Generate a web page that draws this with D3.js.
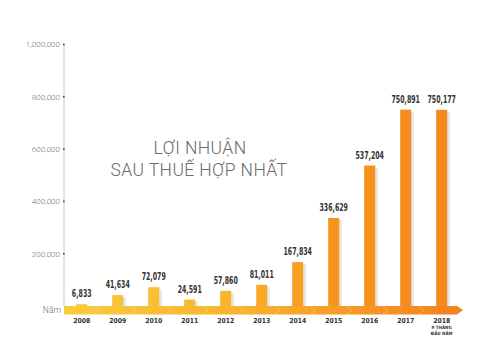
<!DOCTYPE html>
<meta charset="utf-8">
<style>
body { margin: 0; background: #fff; }
.tick-label { font-family: Roboto, sans-serif; font-weight: 300; font-size: 8px; fill: #6f6f6f; }
.val { font-family: "DejaVu Sans Condensed", "Liberation Sans Narrow", sans-serif; font-weight: bold; font-size: 8.5px; fill: #333; }
.year { font-family: "DejaVu Sans Condensed", sans-serif; font-weight: bold; font-size: 6.8px; fill: #333; }
.title { font-family: Roboto, sans-serif; font-weight: 300; font-size: 17.5px; fill: #6a6a6a; letter-spacing: 0.4px; }
</style>
<body>
<script src="https://cdn.jsdelivr.net/npm/d3@7"></script>
<script>
// data
var years = ["2008", "2009", "2010", "2011", "2012", "2013", "2014", "2015", "2016", "2017", "2018"];
var profits = [6833, 41634, 72079, 24591, 57860, 81011, 167834, 336629, 537204, 750891, 750177];
var yTicks = [200000, 400000, 600000, 800000, 1000000];

var width = 490, height = 362;

var svg = d3.select("body").append("svg")
    .attr("width", width)
    .attr("height", height);

var x = d3.scalePoint().domain(years).range([81.7, 441.7]);
var y = d3.scaleLinear().domain([0, 1000000]).range([306, 44.5]);

// colour goes yellow -> orange along the years
var barColor = d3.scaleLinear()
    .domain([0, 4, 7, 10])
    .range(["#f9c83a", "#f8b52a", "#f7941d", "#f6891e"]);

var defs = svg.append("defs");
var grad = defs.append("linearGradient").attr("id", "band")
    .attr("x1", "0%").attr("x2", "100%").attr("y1", "0%").attr("y2", "0%");
grad.append("stop").attr("offset", "0%").attr("stop-color", "#fbcb3e");
grad.append("stop").attr("offset", "45%").attr("stop-color", "#f9b12c");
grad.append("stop").attr("offset", "100%").attr("stop-color", "#f5801f");

// y axis
svg.append("line")
    .attr("x1", 64).attr("x2", 64)
    .attr("y1", y(1000000)).attr("y2", 306)
    .attr("stroke", "#c8c8c8").attr("stroke-width", 1);

var ticks = svg.append("g").selectAll("g").data(yTicks).enter().append("g")
    .attr("transform", function(d) { return "translate(64," + y(d) + ")"; });
ticks.append("rect").attr("x", -1).attr("y", -0.8).attr("width", 1.6).attr("height", 1.6).attr("fill", "#444");
ticks.append("text").attr("class", "tick-label")
    .attr("x", -4).attr("dy", "0.35em").attr("text-anchor", "end")
    .text(function(d) { return d3.format(",")(d); });

// bars with a small grey shadow
var bw = 11;
var bars = svg.append("g").selectAll("g").data(years).enter().append("g");
bars.append("rect")
    .attr("x", function(d) { return x(d) - bw / 2 + 2.5; })
    .attr("y", function(d, i) { return y(profits[i]) + 2; })
    .attr("width", bw)
    .attr("height", function(d, i) { return Math.max(0, 306 - y(profits[i]) - 2); })
    .attr("fill", "#d9d9d9").attr("opacity", 0.7);
bars.append("rect")
    .attr("x", function(d) { return x(d) - bw / 2; })
    .attr("y", function(d, i) { return y(profits[i]); })
    .attr("width", bw)
    .attr("height", function(d, i) { return 306 - y(profits[i]); })
    .attr("fill", function(d, i) { return barColor(i); });
// condensed, slightly tall value labels
bars.append("text").attr("class", "val")
    .attr("transform", function(d, i) { return "translate(" + x(d) + "," + (y(profits[i]) - 7) + ") scale(0.82,1.15)"; })
    .attr("text-anchor", "middle")
    .text(function(d, i) { return d3.format(",")(profits[i]); });

// arrow band along the bottom
svg.append("path")
    .attr("d", "M64,306 L457,306 L463,310 L457,314.5 L64,314.5 Z")
    .attr("fill", "url(#band)");
svg.append("g").selectAll("path").data(years.slice(0, 10)).enter().append("path")
    .attr("d", function(d) { var cx = x(d) + 13; return "M" + cx + ",306 L" + (cx + 5) + ",310.2 L" + cx + ",314.5"; })
    .attr("fill", "none").attr("stroke", "#fff").attr("stroke-opacity", 0.35).attr("stroke-width", 0.8);

svg.append("text").attr("class", "tick-label")
    .attr("x", 61).attr("y", 310).attr("dy", "0.35em").attr("text-anchor", "end")
    .style("font-size", "8.5px")
    .text("Năm");

// year labels
svg.append("g").selectAll("text").data(years).enter().append("text")
    .attr("class", "year")
    .attr("x", function(d) { return x(d); })
    .attr("y", 323)
    .attr("text-anchor", "middle")
    .text(function(d) { return d; });
svg.append("text").attr("class", "year").style("font-size", "4.5px")
    .attr("x", x("2018")).attr("y", 329).attr("text-anchor", "middle").text("9 THÁNG");
svg.append("text").attr("class", "year").style("font-size", "4.5px")
    .attr("x", x("2018")).attr("y", 335).attr("text-anchor", "middle").text("ĐẦU NĂM");

// title
svg.append("text").attr("class", "title")
    .attr("x", 200).attr("y", 154).attr("text-anchor", "middle")
    .text("LỢI NHUẬN");
svg.append("text").attr("class", "title")
    .attr("x", 199).attr("y", 176).attr("text-anchor", "middle")
    .text("SAU THUẾ HỢP NHẤT");
</script>
</body>
